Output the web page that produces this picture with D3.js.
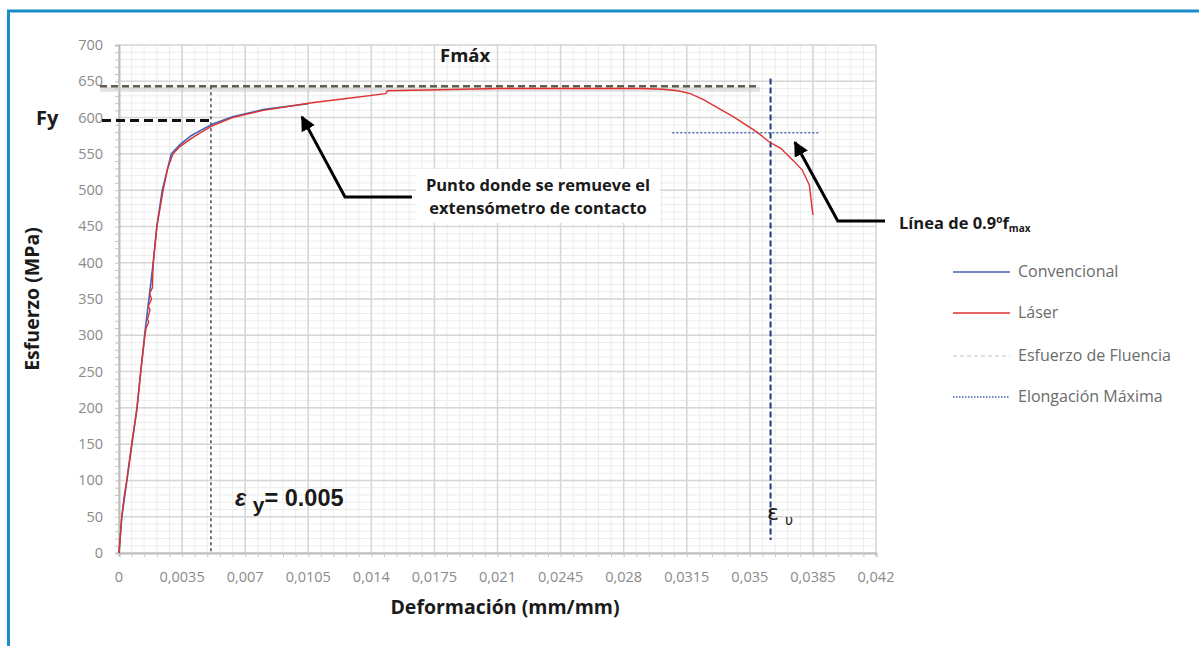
<!DOCTYPE html>
<html>
<head>
<meta charset="utf-8">
<script src="https://cdn.jsdelivr.net/npm/d3@7"></script>
<style>
body { margin: 0; background: #fff; }
svg { display: block; }
.tick-label { font-family: "Open Sans", sans-serif; font-size: 14.5px; fill: #8a8a8a; }
.bold { font-family: "Open Sans", sans-serif; font-weight: bold; fill: #1a1a1a; }
.legend-text { font-family: "Open Sans", sans-serif; font-size: 16px; fill: #6b6b6b; }
</style>
</head>
<body>
<svg id="chart" width="1199" height="646"></svg>
<script>
// Data (strain mm/mm, stress MPa)
var laser = [
	[0, 0], [0.00015, 50], [0.0003, 80], [0.00043, 100], [0.0007, 150], [0.001, 200],
	[0.0012, 250], [0.00144, 300], [0.0015, 310], [0.00165, 318], [0.00158, 322],
	[0.00172, 335], [0.00163, 340], [0.0018, 350], [0.0017, 358], [0.00185, 365],
	[0.0019, 400], [0.0021, 450], [0.00245, 500], [0.0027, 530], [0.003, 550],
	[0.00338, 560], [0.004, 571], [0.0045, 579], [0.0052, 589], [0.0063, 600],
	[0.008, 610], [0.0106, 620], [0.0125, 626], [0.0148, 633], [0.0149, 637],
	[0.017, 638], [0.021, 640], [0.025, 640], [0.029, 640], [0.0302, 639],
	[0.031, 637], [0.0317, 633], [0.0324, 625], [0.0341, 601], [0.0354, 580], [0.0361, 566],
	[0.0367, 558], [0.0374, 541], [0.0379, 528], [0.0383, 507], [0.0385, 466]
];
var convencional = [
	[0, 0], [0.00016, 50], [0.00044, 100], [0.00072, 150], [0.001, 200],
	[0.00142, 300], [0.0019, 400], [0.0021, 450], [0.0024, 500], [0.0029, 550],
	[0.0034, 563], [0.004, 575], [0.0045, 582], [0.0052, 591], [0.0063, 601],
	[0.008, 611], [0.0095, 616], [0.0105, 619]
];

var xTicks = [0, 0.0035, 0.007, 0.0105, 0.014, 0.0175, 0.021, 0.0245, 0.028, 0.0315, 0.035, 0.0385, 0.042];
var xTickLabels = ["0", "0,0035", "0,007", "0,0105", "0,014", "0,0175", "0,021", "0,0245", "0,028", "0,0315", "0,035", "0,0385", "0,042"];
var yTicks = [0, 50, 100, 150, 200, 250, 300, 350, 400, 450, 500, 550, 600, 650, 700];

var legendNames = ["Convencional", "Láser", "Esfuerzo de Fluencia", "Elongación Máxima"];

// reference levels
var fMax = 643;
var fY = 596;
var epsY = 0.0051;
var epsU = 0.03615;
var f09 = 579;

var margin = {top: 45, right: 323, bottom: 93, left: 119},
	width = 1199 - margin.left - margin.right,
	height = 646 - margin.top - margin.bottom;

var x = d3.scaleLinear().domain([0, 0.042]).range([0, width]);
var y = d3.scaleLinear().domain([0, 700]).range([height, 0]);

var root = d3.select("#chart");

// blue frame
root.append("line").attr("x1", 7).attr("x2", 1199).attr("y1", 11).attr("y2", 11)
	.attr("stroke", "#1a8cc9").attr("stroke-width", 3);
root.append("line").attr("x1", 8.5).attr("x2", 8.5).attr("y1", 10).attr("y2", 646)
	.attr("stroke", "#1a8cc9").attr("stroke-width", 3);

var svg = root.append("g")
	.attr("transform", "translate(" + margin.left + "," + margin.top + ")");

// minor grid
var minorX = [], minorY = [];
for (var i = 0; i <= 60; i++) minorX.push(i * 0.0007);
for (var j = 0; j <= 70; j++) minorY.push(j * 10);

svg.append("g").selectAll("line.mx").data(minorX).enter().append("line")
	.attr("x1", function(d) { return x(d); }).attr("x2", function(d) { return x(d); })
	.attr("y1", 0).attr("y2", height)
	.attr("stroke", "#ededed").attr("stroke-width", 1);
svg.append("g").selectAll("line.my").data(minorY).enter().append("line")
	.attr("y1", function(d) { return y(d); }).attr("y2", function(d) { return y(d); })
	.attr("x1", 0).attr("x2", width)
	.attr("stroke", "#ededed").attr("stroke-width", 1);

// major grid
svg.append("g").selectAll("line").data(xTicks).enter().append("line")
	.attr("x1", function(d) { return x(d); }).attr("x2", function(d) { return x(d); })
	.attr("y1", 0).attr("y2", height)
	.attr("stroke", "#d6d6d6").attr("stroke-width", 1.5);
svg.append("g").selectAll("line").data(yTicks).enter().append("line")
	.attr("y1", function(d) { return y(d); }).attr("y2", function(d) { return y(d); })
	.attr("x1", 0).attr("x2", width)
	.attr("stroke", "#d6d6d6").attr("stroke-width", 1.5);

// axes
var xAxis = d3.axisBottom(x).tickValues(minorX).tickSize(4).tickFormat("");
var yAxis = d3.axisLeft(y).tickValues(minorY).tickSize(4).tickFormat("");

var gx = svg.append("g").attr("transform", "translate(0," + height + ")").call(xAxis);
var gy = svg.append("g").call(yAxis);
[gx, gy].forEach(function(g) {
	g.select(".domain").attr("stroke", "#bdbdbd").attr("stroke-width", 2);
	g.selectAll(".tick line").attr("stroke", "#c4c4c4");
});

svg.append("g").selectAll("text").data(xTicks).enter().append("text")
	.attr("class", "tick-label")
	.attr("x", function(d) { return x(d); })
	.attr("y", height + 29)
	.attr("text-anchor", "middle")
	.text(function(d, i) { return xTickLabels[i]; });

svg.append("g").selectAll("text").data(yTicks).enter().append("text")
	.attr("class", "tick-label")
	.attr("x", -16)
	.attr("y", function(d) { return y(d) + 5; })
	.attr("text-anchor", "end")
	.text(function(d) { return d; });

// axis titles
root.append("text").attr("class", "bold")
	.attr("transform", "translate(39,299) rotate(-90)")
	.attr("text-anchor", "middle").style("font-size", "19.5px")
	.text("Esfuerzo (MPa)");
root.append("text").attr("class", "bold")
	.attr("x", 505).attr("y", 614)
	.attr("text-anchor", "middle").style("font-size", "19.5px")
	.text("Deformación (mm/mm)");

// reference lines
svg.append("line")
	.attr("x1", -19).attr("x2", x(0.03555))
	.attr("y1", y(fMax) + 3).attr("y2", y(fMax) + 3)
	.attr("stroke", "#cfcfcf").attr("stroke-width", 5).attr("opacity", 0.6);
svg.append("line")
	.attr("x1", -19).attr("x2", x(0.03555))
	.attr("y1", y(fMax)).attr("y2", y(fMax))
	.attr("stroke", "#5f5f4c").attr("stroke-width", 2.5)
	.attr("stroke-dasharray", "7,4");

svg.append("line")
	.attr("x1", x(epsY)).attr("x2", x(epsY))
	.attr("y1", y(fMax)).attr("y2", y(0))
	.attr("stroke", "#555").attr("stroke-width", 1.6)
	.attr("stroke-dasharray", "3,3");

svg.append("line")
	.attr("x1", -17).attr("x2", x(epsY) + 2)
	.attr("y1", y(fY)).attr("y2", y(fY))
	.attr("stroke", "#111").attr("stroke-width", 3)
	.attr("stroke-dasharray", "9,5");

svg.append("line")
	.attr("x1", x(0.0307)).attr("x2", x(0.0389))
	.attr("y1", y(f09)).attr("y2", y(f09))
	.attr("stroke", "#4a6db5").attr("stroke-width", 1.5)
	.attr("stroke-dasharray", "2,2");

svg.append("line")
	.attr("x1", x(epsU)).attr("x2", x(epsU))
	.attr("y1", y(654)).attr("y2", y(18))
	.attr("stroke", "#1f3a78").attr("stroke-width", 2)
	.attr("stroke-dasharray", "6,3");

// curves
var line = d3.line()
	.x(function(d) { return x(d[0]); })
	.y(function(d) { return y(d[1]); });

svg.append("path").datum(convencional)
	.attr("d", line).attr("fill", "none")
	.attr("stroke", "#3f63b5").attr("stroke-width", 1.6);
svg.append("path").datum(laser)
	.attr("d", line).attr("fill", "none")
	.attr("stroke", "#e0312f").attr("stroke-width", 1.4);

// arrows
root.append("defs").append("marker")
	.attr("id", "head").attr("viewBox", "0 0 10 10")
	.attr("refX", 9).attr("refY", 5)
	.attr("markerWidth", 5).attr("markerHeight", 5)
	.attr("markerUnits", "strokeWidth")
	.attr("orient", "auto")
	.append("path").attr("d", "M0,0 L10,5 L0,10 z").attr("fill", "#000");

var arrow1 = [[0.01625, 490.6], [0.01254, 490.6], [0.01015, 601]];
var arrow2 = [[0.0425, 457.5], [0.03988, 457.5], [0.0375, 566]];
[arrow1, arrow2].forEach(function(a) {
	svg.append("path").datum(a)
		.attr("d", line).attr("fill", "none")
		.attr("stroke", "#000").attr("stroke-width", 3)
		.attr("marker-end", "url(#head)");
});

// annotation box
root.append("rect").attr("x", 416).attr("y", 169).attr("width", 244).attr("height", 54)
	.attr("fill", "#fff");
root.append("text").attr("class", "bold").style("font-size", "16.5px")
	.attr("x", 538).attr("y", 191).attr("text-anchor", "middle")
	.text("Punto donde se remueve el");
root.append("text").attr("class", "bold").style("font-size", "16.5px")
	.attr("x", 538).attr("y", 214).attr("text-anchor", "middle")
	.text("extensómetro de contacto");

var t2 = root.append("text").attr("class", "bold").style("font-size", "16.5px")
	.attr("x", 899).attr("y", 229);
t2.append("tspan").text("Línea de 0.9");
t2.append("tspan").attr("dy", -6).style("font-size", "10px").text("o");
t2.append("tspan").attr("dy", 6).text("f");
t2.append("tspan").attr("dy", 3).style("font-size", "10px").text("max");

root.append("text").attr("class", "bold").style("font-size", "18.5px")
	.attr("x", 440).attr("y", 62).text("Fmáx");
root.append("text").attr("class", "bold").style("font-size", "20px")
	.attr("x", 36).attr("y", 125).text("Fy");

var ey = root.append("text")
	.style("font-family", "'Liberation Sans', Arial, sans-serif")
	.style("font-weight", "bold").style("font-size", "23.5px").attr("fill", "#1a1a1a")
	.attr("x", 235).attr("y", 506);
ey.append("tspan").style("font-style", "italic").text("ε ");
ey.append("tspan").attr("dy", 6).style("font-size", "21px").text("y");
ey.append("tspan").attr("dy", -6).text("= 0.005");

var eu = root.append("text")
	.style("font-family", "'DejaVu Sans', sans-serif")
	.style("font-size", "22px").attr("fill", "#1a1a1a")
	.attr("x", 767).attr("y", 520);
eu.append("tspan").text("ε");
eu.append("tspan").attr("dx", 6).attr("dy", 5).style("font-size", "14px").text("υ");

// legend
var legend = root.append("g");
var legendY = [272, 313, 356, 397];
var legendStroke = ["#3f63b5", "#e0312f", "#d9d9d9", "#3f5fae"];
var legendDash = [null, null, "4,3", "1.5,1.5"];
legendNames.forEach(function(name, i) {
	legend.append("line")
		.attr("x1", 953).attr("x2", 1010)
		.attr("y1", legendY[i]).attr("y2", legendY[i])
		.attr("stroke", legendStroke[i]).attr("stroke-width", 1.6)
		.attr("stroke-dasharray", legendDash[i]);
	legend.append("text").attr("class", "legend-text")
		.attr("x", 1018).attr("y", legendY[i] + 5)
		.text(name);
});
</script>
</body>
</html>
